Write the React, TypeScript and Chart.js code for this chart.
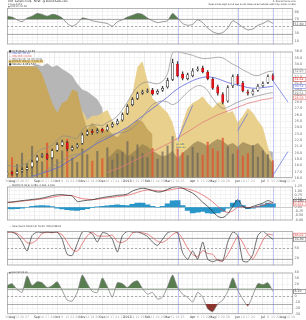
import React, { useEffect, useRef } from "react";
import { Chart, registerables } from "chart.js";

Chart.register(...registerables);

const FONT = "DejaVu Sans";

// ---------- DATA (weekly) ----------
const weekLabels = ["30","Aug","13","20","27","","Sep","10","17","24","Oct","8","15","22","29","Nov","12","19","26","Dec","10","17","24","31","2013","14","22","28","Feb","11","19","25","Mar","11","18","25","","Apr","8","15","22","May","13","20","28","","Jun","10","17","24","","Jul","8","15","22","Aug","12","19"];
const monthLabels = ["Aug","Sep","Oct","Nov","Dec","2013","Feb","Mar","Apr","May","Jun","Jul"];
const markerWeeks = [34, 46, 53];

const closes = [16.8,16.6,17.0,17.3,17.6,18.5,19.3,19.6,19.1,20.3,21.3,21.7,20.6,20.8,21.2,22.8,23.3,23.2,23.5,23.4,24.1,24.5,25.0,26.0,27.3,28.4,29.3,29.6,29.8,29.3,29.7,30.2,31.4,34.2,32.2,31.8,32.3,32.9,33.2,32.8,31.7,30.2,29.4,28.0,30.3,32.0,30.9,29.8,29.4,29.7,30.5,30.9,32.0,31.6];
const opens = [16.5,16.9,16.7,17.1,17.4,17.8,18.7,19.4,19.7,19.2,20.4,21.2,21.6,20.5,20.9,21.5,22.9,23.4,23.3,23.7,23.6,24.2,24.6,25.2,26.2,27.6,28.6,29.4,29.7,29.9,29.4,29.9,30.4,31.6,34.0,32.4,31.7,32.2,33.1,33.4,32.7,31.6,30.4,29.2,28.2,30.6,32.1,31.0,29.6,29.3,29.9,30.6,31.1,32.2];
const highs = [17.2,17.1,17.3,17.6,17.9,18.8,19.6,19.9,19.9,20.6,21.6,22.0,21.8,21.1,21.5,23.1,23.6,23.7,23.8,23.9,24.4,24.8,25.3,26.3,27.6,28.7,29.6,29.9,30.1,30.2,30.0,30.5,31.8,34.8,34.4,32.8,32.6,33.3,33.6,33.7,33.0,31.9,30.7,29.5,30.6,32.3,32.4,31.3,29.9,30.0,30.8,31.2,32.3,32.5];
const lows = [16.3,16.4,16.5,16.9,17.2,17.6,18.5,19.2,18.9,19.0,20.2,21.0,20.3,20.3,20.7,21.3,22.7,22.9,23.1,23.2,23.4,24.0,24.4,25.0,26.0,27.4,28.4,29.2,29.5,29.1,29.2,29.7,30.2,31.4,32.0,31.5,31.5,32.0,32.9,32.6,31.5,30.0,29.1,27.7,28.0,30.3,30.7,29.6,29.1,29.1,29.7,30.4,30.9,31.4];

const ma50 = [null,null,null,null,null,16.3,16.5,16.8,17.0,17.3,17.6,18.0,18.5,19.0,19.5,20.0,20.5,21.0,21.5,21.9,22.3,22.7,23.1,23.6,24.0,24.6,25.2,25.8,26.4,27.0,27.6,28.2,28.8,29.5,30.1,30.6,31.0,31.4,31.7,31.9,32.0,31.9,31.7,31.4,31.1,30.9,30.7,30.5,30.3,30.2,30.2,30.3,30.4,30.5];
const ma200 = [null,null,null,null,null,null,null,null,null,null,null,null,null,null,null,null,null,null,null,null,16.9,17.2,17.5,17.8,18.2,18.6,19.0,19.4,19.8,20.2,20.6,21.0,21.4,21.8,22.3,22.8,23.3,23.8,24.3,24.8,25.2,25.6,26.0,26.3,26.6,26.9,27.2,27.5,27.8,28.0,28.2,28.4,28.5,28.7];
const bbUpper = [18.0,17.9,17.8,18.0,18.4,19.2,20.0,20.6,20.8,21.2,22.0,22.6,22.6,22.4,22.3,23.6,24.2,24.4,24.4,24.3,24.8,25.2,25.8,26.8,28.0,29.4,30.4,31.0,31.2,31.0,30.9,31.3,32.5,35.8,36.0,35.8,35.6,35.4,35.1,34.9,34.9,35.0,35.1,35.0,34.5,34.0,33.6,33.1,32.7,32.3,32.2,32.5,32.8,32.9];
const bbLower = [15.6,15.5,15.6,15.9,16.1,16.2,16.4,16.8,17.3,17.8,18.2,18.7,19.2,19.6,19.8,19.9,20.3,21.0,21.8,22.3,22.6,22.9,23.1,23.2,23.4,23.9,24.6,25.6,26.7,27.6,28.0,28.2,28.0,27.6,28.0,28.8,29.6,30.2,30.6,30.5,29.8,28.6,27.6,27.0,27.2,27.6,28.0,28.3,28.6,28.8,29.0,29.2,29.4,29.5];

const trendA = [[34, 22.0], [37, 27.5]];
const trendB = [[46, 23.5], [48, 26.2]];
const trendC = [[53, 31.4], [56, 28.0]];
const trendD = [[53, 16.4], [56, 20.2]];

const volume = [3.5,4.2,2.8,5.1,3.0,6.5,4.0,3.3,7.2,4.5,3.8,5.6,8.0,4.1,3.2,6.0,4.8,3.5,5.5,4.0,6.2,3.7,4.9,5.3,7.5,4.4,6.8,5.0,4.2,6.1,3.9,5.4,6.6,8.5,7.0,5.2,4.6,6.3,5.1,4.7,7.4,6.0,5.5,8.2,6.4,4.9,5.8,4.5,5.0,6.7,4.3,5.6,4.8,3.6];

// overlay areas (height units)
const grayArea = [115,115,115,115,115,115,117,115,118,114,116,112,109,105,97,91,89,85,81,72,0,null,null,null,null,null,null,null,null,null,null,null,null,null,null,null,null,null,null,null,null,null,null,null,null,null,null,null,null,null,0,25,28,27];
const darkGold = [115,115,115,115,115,115,114,107,92,77,67,77,80,91,89,67,50,57,52,48,50,45,42,48,52,55,60,58,50,45];
const lightGold = [null,null,null,null,null,null,null,null,null,null,null,null,null,null,null,70,60,64,64,67,70,59,54,64,77,87,114,120,100,82,77,72,67,57,37,57,72,77,80,84,77,72,77,79,67,69,57,64,72,67,59,52,32,17];
const oliveArea = [null,null,null,null,null,null,null,null,null,null,null,null,null,null,null,null,null,null,null,null,20,25,30,28,22,26,30,35,32,28,25,22,24,28,20,26,30,35,38,36,33,37,40,38,34,36,32,37,35,33,36,30,22,15];

const rsi = [77.5,75,67.5,62.5,72.5,77.5,85,82.5,77.5,82.5,80,72.5,57.5,50,57.5,72.5,70,65,62.5,60,57.5,50,62.5,67.5,75,80,85,82.5,72.5,65,60,62.5,65,85,72.5,57.5,52.5,55,67.5,60,45,35,30,32.5,45,65,57.5,47.5,40,42.5,52.5,57.5,65,57.5];

const macd = [0.30,0.32,0.36,0.40,0.43,0.47,0.50,0.55,0.62,0.70,0.75,0.76,0.72,0.68,0.35,0.38,0.42,0.45,0.52,0.58,0.63,0.67,0.72,0.74,0.80,0.98,1.08,1.15,1.10,1.00,0.92,0.95,1.08,1.20,1.25,1.15,1.00,0.85,0.60,0.30,0.05,-0.25,-0.55,-0.62,-0.40,0.05,0.45,0.05,-0.05,0.05,0.15,0.25,0.40,0.28];
const signal = [0.28,0.30,0.33,0.36,0.40,0.43,0.46,0.50,0.55,0.61,0.66,0.70,0.71,0.70,0.60,0.52,0.48,0.46,0.48,0.52,0.56,0.60,0.64,0.68,0.72,0.80,0.90,0.99,1.04,1.03,1.00,0.99,1.02,1.08,1.13,1.14,1.10,1.02,0.90,0.74,0.55,0.32,0.05,-0.20,-0.32,-0.22,0.00,0.02,-0.02,-0.01,0.05,0.12,0.22,0.26];
const hist = [-0.08,-0.10,-0.08,-0.05,0.00,0.06,0.08,0.10,0.08,0.04,-0.05,-0.10,-0.15,-0.18,-0.20,-0.15,-0.08,-0.02,0.02,0.05,0.08,0.12,0.15,0.12,0.10,0.18,0.25,0.25,0.15,0.05,0.00,0.06,0.20,0.38,0.40,0.10,-0.20,-0.35,-0.30,-0.25,-0.35,-0.38,-0.35,-0.25,-0.05,0.25,0.40,0.10,-0.08,-0.05,0.05,0.15,0.25,0.20];

const stochK = [98,97,89,68,42,87,97,95,97,95,97,76,32,29,63,97,99,92,68,95,92,76,39,87,99,97,97,92,84,68,58,76,95,99,95,37,18,42,18,68,18,11,16,13,68,97,87,13,11,32,87,100,87,76];
const stochD = [95,97,93,82,66,65,75,93,96,96,96,89,68,46,41,63,86,96,86,85,85,88,69,67,75,94,98,95,91,81,70,67,76,90,96,77,50,32,26,43,35,32,15,13,32,59,84,66,37,19,43,73,91,88];

const roc = [17.9,21.2,11.4,6.5,34.2,17.9,24.4,22.8,14.7,17.9,24.4,9.8,-6.5,-8.1,6.5,35.8,21.2,8.1,6.5,30.9,16.3,-1.6,22.8,21.2,14.7,22.8,26.0,13.0,3.3,6.5,-4.9,-1.6,16.3,35.8,14.7,3.3,-1.6,-9.8,6.5,-1.6,-21.2,-26,-13,-6.5,8.1,30.9,9.8,-4.9,-16.3,1.6,21.2,19.5,22.8,8.1];

// ---------- helpers ----------
const sparse = (pts: number[][]) => {
  const a: (number | null)[] = new Array(weekLabels.length).fill(null);
  pts.forEach(([i, v]) => { a[i] = v; });
  return a;
};

const isMonth = (i: number) => monthLabels.includes(weekLabels[i]);

function xScale(show: boolean) {
  return {
    type: "category",
    offset: false,
    grid: {
      color: (c: any) => (isMonth(c.index) ? "#dedede" : "#f0f0f0"),
      lineWidth: 0.6,
      drawTicks: false,
    },
    border: { display: false },
    ticks: {
      display: show,
      autoSkip: false,
      maxRotation: 0,
      minRotation: 0,
      padding: 1,
      font: { size: 3.2, family: FONT },
      color: (c: any) => (isMonth(c.index) ? "#333" : "#aaa"),
    },
    afterFit: (s: any) => { s.height = show ? 6 : 0; },
  };
}

function yRight(min: number, max: number, step: number, cb: (v: number) => string) {
  return {
    position: "right",
    min,
    max,
    grid: { color: "#ededed", lineWidth: 0.6, drawTicks: false },
    border: { display: false },
    ticks: {
      stepSize: step,
      autoSkip: false,
      padding: 1.5,
      font: { size: 3.4, family: FONT },
      color: "#666",
      callback: cb,
    },
    afterFit: (s: any) => { s.width = 13; },
  };
}

type Level = { v: number; dash?: boolean; color?: string };
type Txt = { t: string; x: number; y: number; size?: number; color?: string; align?: string; bg?: string };
type Box = { v: number; t: string; color: string };

function decor(o: { levels?: Level[]; texts?: Txt[]; boxes?: Box[]; yId?: string }) {
  return {
    id: "decor",
    beforeDatasetsDraw(chart: any) {
      const { ctx, chartArea: a } = chart;
      const y = chart.scales[o.yId || "y"];
      ctx.save();
      (o.levels || []).forEach((l) => {
        const py = Math.round(y.getPixelForValue(l.v)) + 0.5;
        ctx.strokeStyle = l.color || "#8a8a8a";
        ctx.lineWidth = 0.7;
        ctx.setLineDash(l.dash ? [2, 2] : []);
        ctx.beginPath();
        ctx.moveTo(a.left, py);
        ctx.lineTo(a.right, py);
        ctx.stroke();
      });
      ctx.restore();
    },
    afterDatasetsDraw(chart: any) {
      const { ctx, chartArea: a } = chart;
      const x = chart.scales.x;
      ctx.save();
      ctx.strokeStyle = "rgba(110,120,225,0.5)";
      ctx.lineWidth = 0.8;
      markerWeeks.forEach((w) => {
        const px = Math.round(x.getPixelForValue(w)) + 0.5;
        ctx.beginPath();
        ctx.moveTo(px, a.top);
        ctx.lineTo(px, a.bottom);
        ctx.stroke();
      });
      ctx.restore();
    },
    afterDraw(chart: any) {
      const { ctx, chartArea: a } = chart;
      const y = chart.scales[o.yId || "y"];
      ctx.save();
      ctx.strokeStyle = "#9a9a9a";
      ctx.lineWidth = 0.7;
      ctx.strokeRect(a.left + 0.5, a.top + 0.5, a.right - a.left - 1, a.bottom - a.top - 1);
      ctx.textBaseline = "middle";
      (o.texts || []).forEach((t) => {
        const size = t.size || 3;
        ctx.font = `${size}px ${FONT}`;
        ctx.textAlign = (t.align as any) || "left";
        if (t.bg) {
          const w = ctx.measureText(t.t).width;
          ctx.fillStyle = t.bg;
          ctx.fillRect(t.x - 0.5, t.y - size / 2 - 0.3, w + 1, size + 0.6);
        }
        ctx.fillStyle = t.color || "#333";
        ctx.fillText(t.t, t.x, t.y);
      });
      (o.boxes || []).forEach((b) => {
        const py = y.getPixelForValue(b.v);
        ctx.fillStyle = "#fff";
        ctx.fillRect(a.right + 0.5, py - 2, 12.5, 4);
        ctx.strokeStyle = b.color;
        ctx.lineWidth = 0.5;
        ctx.strokeRect(a.right + 0.5, py - 2, 12.5, 4);
        ctx.fillStyle = b.color;
        ctx.font = `3.2px ${FONT}`;
        ctx.textAlign = "left";
        ctx.fillText(b.t, a.right + 1.5, py + 0.2);
      });
      ctx.restore();
    },
  };
}

function baseOptions(padTop: number, padLeft: number, scales: any) {
  return {
    animation: false,
    responsive: false,
    devicePixelRatio: 1,
    events: [],
    layout: { padding: { left: padLeft, top: padTop, right: 0, bottom: 0 } },
    plugins: { legend: { display: false }, tooltip: { enabled: false } },
    scales,
  };
}

const line = (data: any, color: string, width: number, extra: any = {}) => ({
  type: "line",
  data,
  borderColor: color,
  borderWidth: width,
  pointRadius: 0,
  tension: 0.3,
  fill: false,
  ...extra,
});

const area = (data: any, color: string, order: number) => ({
  type: "line",
  data,
  yAxisID: "ya",
  borderWidth: 0,
  borderColor: "rgba(0,0,0,0)",
  backgroundColor: color,
  pointRadius: 0,
  tension: 0,
  fill: "origin",
  order,
});

// ---------- panel configs ----------
function topConfig() {
  return {
    type: "line",
    data: {
      labels: weekLabels,
      datasets: [
        line(rsi, "#6e6e6e", 0.7, {
          tension: 0.2,
          fill: { target: { value: 70 }, above: "rgb(88,126,80)", below: "rgba(0,0,0,0)" },
        }),
      ],
    },
    options: baseOptions(8, 7, {
      x: xScale(false),
      y: yRight(0, 100, 10, (v: number) => ([10, 30, 70, 90].includes(v) ? String(v) : "")),
    }),
    plugins: [
      decor({
        levels: [{ v: 70 }, { v: 50, dash: true }, { v: 30 }],
        texts: [
          { t: "XYZ  Sample Corp.  NYSE  @ StockCharts.com", x: 8, y: 1.8, size: 2.6, color: "#222" },
          { t: "1-Aug-2013", x: 8, y: 4.2, size: 2.4, color: "#444" },
          { t: "▲ RSI(14) 57.50", x: 8, y: 6.5, size: 2.4, color: "#444" },
          { t: "© StockCharts.com", x: 296, y: 1.8, size: 2.4, color: "#444", align: "right" },
          { t: "Open 31.95 High 32.16 Low 31.40 Close 31.62 Volume 4.8M Chg -0.38 (-1.19%)", x: 296, y: 4.6, size: 2.2, color: "#222", align: "right" },
        ],
        boxes: [{ v: 57.5, t: "57.50", color: "#444" }],
      }),
    ],
  };
}

function mainConfig() {
  const up = (i: number) => closes[i] >= opens[i];
  return {
    type: "bar",
    data: {
      labels: weekLabels,
      datasets: [
        {
          type: "bar",
          data: closes.map((c, i) => [opens[i], c]),
          backgroundColor: closes.map((_, i) => (up(i) ? "#ffffff" : "#e4161c")),
          borderColor: closes.map((_, i) => (up(i) ? "#111111" : "#b00000")),
          borderWidth: 0.5,
          borderSkipped: false,
          barThickness: 2.2,
          grouped: false,
          yAxisID: "y",
          order: 1,
        },
        {
          type: "bar",
          data: lows.map((l, i) => [l, highs[i]]),
          backgroundColor: "#444",
          barThickness: 0.7,
          grouped: false,
          yAxisID: "y",
          order: 2,
        },
        line(sparse(trendA), "#5d6ee0", 0.7, { spanGaps: true, tension: 0, yAxisID: "y", order: 3 }),
        line(sparse(trendB), "#5d6ee0", 0.7, { spanGaps: true, tension: 0, yAxisID: "y", order: 3 }),
        line(sparse(trendC), "#5d6ee0", 0.7, { spanGaps: true, tension: 0, yAxisID: "y", order: 3 }),
        line(sparse(trendD), "#5d6ee0", 0.7, { spanGaps: true, tension: 0, yAxisID: "y", order: 3 }),
        line(bbUpper, "#8c8c8c", 0.7, { yAxisID: "y", order: 4 }),
        line(bbLower, "#8c8c8c", 0.7, { yAxisID: "y", order: 4 }),
        line(ma50, "#5a63d8", 0.8, { yAxisID: "y", order: 4 }),
        line(ma200, "#e07b7b", 0.8, { yAxisID: "y", order: 4 }),
        {
          type: "bar",
          data: volume,
          backgroundColor: volume.map((_, i) => (up(i) ? "rgba(105,100,90,0.7)" : "rgba(225,85,50,0.8)")),
          barThickness: 1.4,
          grouped: false,
          yAxisID: "yv",
          order: 6,
        },
        area(oliveArea, "rgba(150,128,78,0.7)", 7),
        area(darkGold, "rgb(199,168,94)", 8),
        area(lightGold, "rgba(232,206,135,0.95)", 9),
        area(grayArea, "rgb(182,182,182)", 10),
      ],
    },
    options: baseOptions(0, 0, {
      x: xScale(true),
      y: yRight(16, 36, 1, (v: number) => v.toFixed(1)),
      ya: { display: false, min: 0, max: 130 },
      yv: {
        position: "left",
        min: 0,
        max: 26,
        grid: { display: false },
        border: { display: false },
        ticks: {
          stepSize: 1,
          autoSkip: false,
          padding: 0.5,
          font: { size: 2.6, family: FONT },
          color: "#666",
          callback: (v: number) => (v >= 1 && v <= 7 ? `${v * 2}M` : ""),
        },
        afterFit: (s: any) => { s.width = 7; },
      },
    }),
    plugins: [
      decor({
        texts: [
          { t: "■ XYZ (Daily) 31.62", x: 9, y: 3.2, size: 2.6, color: "#222" },
          { t: "— MA(50) 30.52", x: 9, y: 5.8, size: 2.6, color: "#5a63d8" },
          { t: "— MA(200) 28.68", x: 9, y: 8.4, size: 2.6, color: "#e06060" },
          { t: "— BB(20,2.0) 32.93 29.51", x: 9, y: 11, size: 2.6, color: "#666" },
          { t: "▲ $GOLD (Daily) 1,310.10", x: 9, y: 13.6, size: 2.6, color: "#7a5a10", bg: "#e9d08e" },
          { t: "■ Volume 4,851,512", x: 9, y: 16.2, size: 2.6, color: "#222" },
          { t: "Q1 EPS", x: 176, y: 96, size: 2.4, color: "#3344aa", bg: "#f4e27a" },
          { t: "beat est.", x: 176, y: 99, size: 2.4, color: "#3344aa", bg: "#f4e27a" },
        ],
        boxes: [
          { v: 32.9, t: "32.93", color: "#777" },
          { v: 31.62, t: "31.62", color: "#d01010" },
          { v: 30.5, t: "30.52", color: "#5a63d8" },
          { v: 29.5, t: "29.51", color: "#777" },
          { v: 28.68, t: "28.68", color: "#e06060" },
        ],
      }),
    ],
  };
}

function macdConfig() {
  return {
    type: "bar",
    data: {
      labels: weekLabels,
      datasets: [
        line(macd, "#222", 0.7, { order: 1 }),
        line(signal, "#e05050", 0.7, { order: 2 }),
        {
          type: "bar",
          data: hist,
          backgroundColor: "rgb(40,150,200)",
          barPercentage: 1,
          categoryPercentage: 1,
          order: 3,
        },
      ],
    },
    options: baseOptions(0, 7, {
      x: xScale(false),
      y: yRight(-0.8, 1.25, 0.25, (v: number) => v.toFixed(2)),
    }),
    plugins: [
      decor({
        levels: [{ v: 0, color: "#bbb" }],
        texts: [
          { t: "— MACD(12,26,9) 0.280, 0.261, 0.019", x: 9, y: 2.5, size: 2.4, color: "#333" },
        ],
        boxes: [
          { v: 0.36, t: "0.280", color: "#222" },
          { v: 0.2, t: "0.261", color: "#e05050" },
        ],
      }),
    ],
  };
}

function stochConfig() {
  return {
    type: "line",
    data: {
      labels: weekLabels,
      datasets: [
        line(stochK, "#333", 0.7, { order: 1, tension: 0.2 }),
        line(stochD, "#e05050", 0.7, { order: 2, tension: 0.2 }),
      ],
    },
    options: baseOptions(7, 7, {
      x: xScale(false),
      y: yRight(0, 100, 10, (v: number) => ([20, 50, 80].includes(v) ? String(v) : "")),
    }),
    plugins: [
      decor({
        levels: [{ v: 80 }, { v: 50, dash: true }, { v: 20 }],
        texts: [
          { t: "— Slow Stoch %K(14,3) 76.30, %D(3) 88.02", x: 9, y: 2.5, size: 2.4, color: "#333" },
        ],
        boxes: [
          { v: 88, t: "88.02", color: "#e05050" },
          { v: 76.3, t: "76.30", color: "#333" },
        ],
      }),
    ],
  };
}

function bottomConfig() {
  return {
    type: "line",
    data: {
      labels: weekLabels,
      datasets: [
        line(roc, "#777", 0.7, {
          tension: 0.2,
          fill: { target: { value: 13 }, above: "rgb(88,126,80)", below: "rgba(0,0,0,0)" },
          order: 1,
        }),
        line(roc, "rgba(0,0,0,0)", 0, {
          tension: 0.2,
          fill: { target: { value: -13 }, above: "rgba(0,0,0,0)", below: "rgb(140,52,46)" },
          order: 2,
        }),
      ],
    },
    options: baseOptions(2, 7, {
      x: xScale(true),
      y: yRight(-30, 40, 10, (v: number) => String(v)),
    }),
    plugins: [
      decor({
        levels: [{ v: 13 }, { v: 0, dash: true }, { v: -13 }],
        texts: [{ t: "▲ ROC(12) 8.10", x: 9, y: 3.5, size: 2.4, color: "#333" }],
        boxes: [{ v: 8.1, t: "8.10", color: "#444" }],
      }),
    ],
  };
}

// ---------- components ----------
function Panel({ top, height, make }: { top: number; height: number; make: () => any }) {
  const ref = useRef<HTMLCanvasElement>(null);
  useEffect(() => {
    const chart = new Chart(ref.current as HTMLCanvasElement, make());
    return () => chart.destroy();
  }, []);
  return (
    <canvas
      ref={ref}
      width={306}
      height={height}
      style={{ position: "absolute", left: 0, top, width: 306, height, display: "block" }}
    />
  );
}

export default function App() {
  return (
    <div style={{ position: "fixed", left: 0, top: 0, width: 306, height: 320, background: "#fff", overflow: "hidden" }}>
      <Panel top={0} height={48} make={topConfig} />
      <Panel top={48} height={136} make={mainConfig} />
      <Panel top={183} height={41} make={macdConfig} />
      <Panel top={224} height={45} make={stochConfig} />
      <Panel top={269} height={51} make={bottomConfig} />
    </div>
  );
}
